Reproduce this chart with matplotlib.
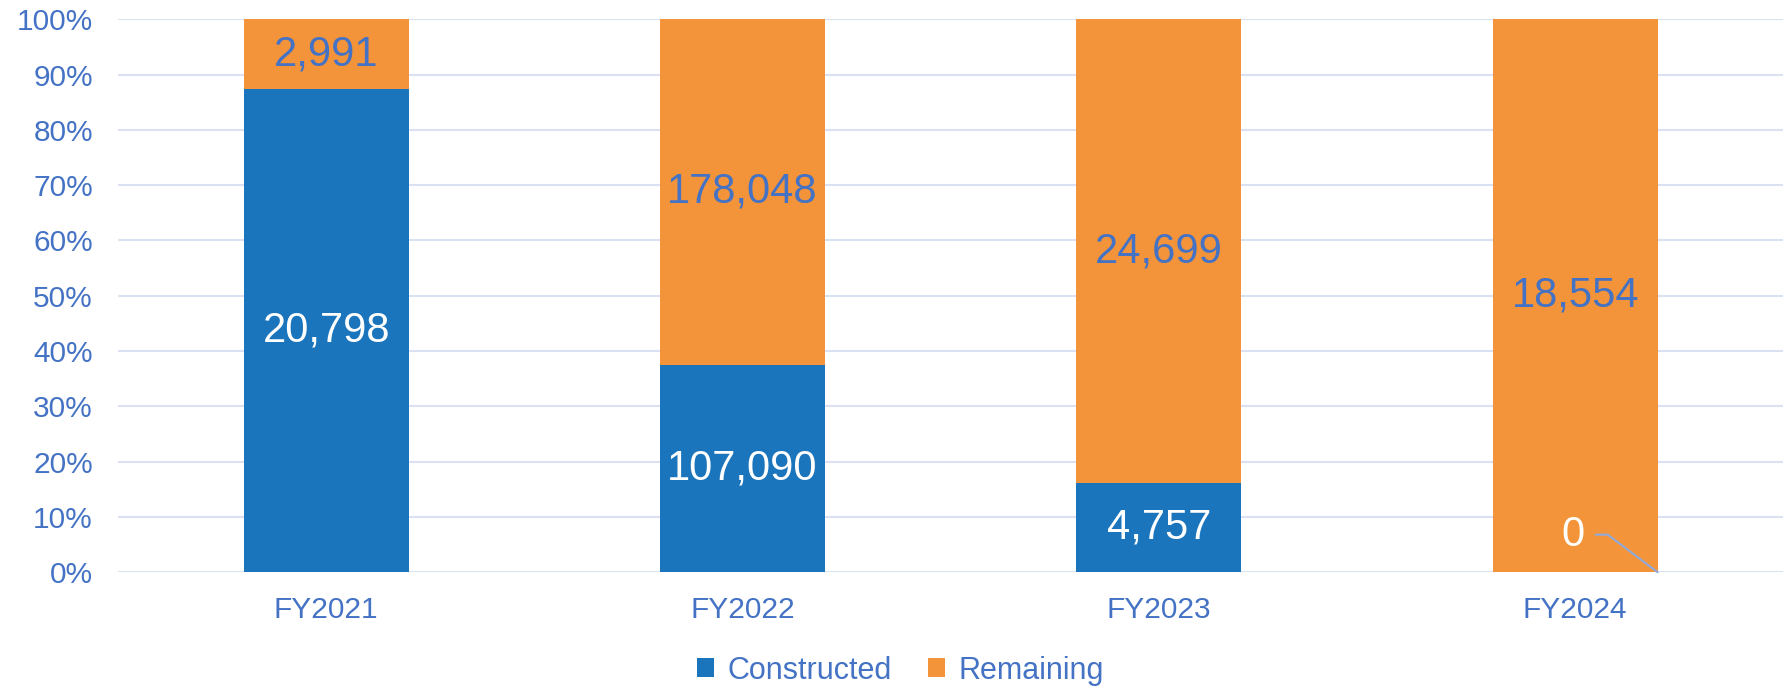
import matplotlib.pyplot as plt
import numpy as np
from matplotlib.ticker import PercentFormatter

plt.rcParams["font.family"] = ["Liberation Sans", "DejaVu Sans"]

YEARS = ["FY2021", "FY2022", "FY2023", "FY2024"]
CONSTRUCTED = [20798, 107090, 4757, 0]
REMAINING = [2991, 178048, 24699, 18554]

BLUE = "#1B75BC"
ORANGE = "#F3943A"
TEXT = "#4472C4"
GRID = "#D9E1F2"

constructed = np.array(CONSTRUCTED, dtype=float)
remaining = np.array(REMAINING, dtype=float)
total = constructed + remaining
c_pct = constructed / total * 100
r_pct = remaining / total * 100

fig = plt.figure(figsize=(17.87, 6.87), dpi=100, facecolor="white")
ax = fig.add_axes([0.066, 0.167, 0.932, 0.805])

x = np.arange(len(YEARS))
width = 0.396
b1 = ax.bar(x, c_pct, width, color=BLUE, label="Constructed", zorder=3)
b2 = ax.bar(x, r_pct, width, bottom=c_pct, color=ORANGE, label="Remaining", zorder=3)

for i in range(len(YEARS)):
    if CONSTRUCTED[i] > 0:
        ax.text(x[i], c_pct[i] / 2, f"{CONSTRUCTED[i]:,}", ha="center", va="center",
                fontsize=30, color="white", zorder=4)
    else:
        # zero label sits above the bar base with a leader line to the corner
        ax.annotate(f"{CONSTRUCTED[i]:,}", xy=(x[i] + width / 2, 0), xytext=(x[i] - 0.005, 6.8),
                    textcoords="data", ha="center", va="center", fontsize=30,
                    color="white", zorder=4,
                    arrowprops=dict(arrowstyle="-", color="#8FAADC", lw=1.5,
                                    connectionstyle="angle,angleA=0,angleB=-37,rad=0",
                                    shrinkA=6, shrinkB=0))
    ax.text(x[i], c_pct[i] + r_pct[i] / 2, f"{REMAINING[i]:,}", ha="center", va="center",
            fontsize=30, color=TEXT, zorder=4)

ax.set_xlim(-0.5, len(YEARS) - 0.5)
ax.set_ylim(0, 100)
ax.set_yticks(np.arange(0, 101, 10))
ax.yaxis.set_major_formatter(PercentFormatter(decimals=0))
ax.set_xticks(x)
ax.set_xticklabels(YEARS)
ax.tick_params(axis="y", length=0, pad=18, labelsize=21.5, labelcolor=TEXT)
ax.tick_params(axis="x", length=0, pad=17, labelsize=21.5, labelcolor=TEXT)
ax.grid(axis="y", color=GRID, linewidth=1.5, zorder=0)
for s in ax.spines.values():
    s.set_visible(False)

leg = fig.legend(loc="center", bbox_to_anchor=(0.504, 0.024), ncol=2, frameon=False,
                 fontsize=22, handlelength=0.55, handleheight=0.55, handletextpad=0.45,
                 columnspacing=1.2)
for t in leg.get_texts():
    t.set_color(TEXT)

fig.savefig("out.png", dpi=100, facecolor="white")
